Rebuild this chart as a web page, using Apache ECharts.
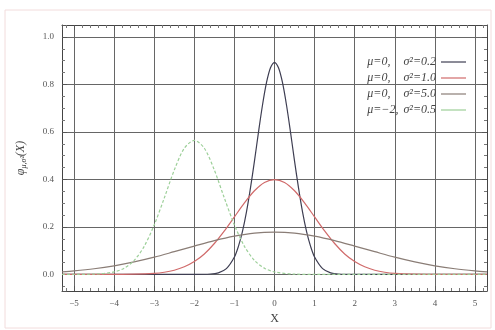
<!DOCTYPE html>
<html>
<head>
<meta charset="utf-8">
<script src="https://cdn.jsdelivr.net/npm/echarts@6/dist/echarts.min.js"></script>
<style>
  html, body { margin: 0; padding: 0; background: #fff; }
  #chart { width: 495px; height: 330px; }
</style>
</head>
<body>
<div id="chart"></div>
<script>
// curve samples
var xA = [-5.3, -2, -1.6, -1.4, -1.2, -1.0, -0.9, -0.8, -0.7, -0.6, -0.5, -0.4, -0.3, -0.2, -0.1, 0,
          0.1, 0.2, 0.3, 0.4, 0.5, 0.6, 0.7, 0.8, 0.9, 1.0, 1.2, 1.4, 1.6, 2, 5.3];
var yA = [0, 0, 0.0015, 0.0066, 0.024, 0.073, 0.118, 0.180, 0.262, 0.363, 0.477, 0.598, 0.712, 0.807, 0.870, 0.892,
          0.870, 0.807, 0.712, 0.598, 0.477, 0.363, 0.262, 0.180, 0.118, 0.073, 0.024, 0.0066, 0.0015, 0, 0];

var xB = [-5.3, -4.5, -4, -3.5, -3, -2.75, -2.5, -2.25, -2, -1.75, -1.5, -1.25, -1, -0.75, -0.5, -0.25, 0,
          0.25, 0.5, 0.75, 1, 1.25, 1.5, 1.75, 2, 2.25, 2.5, 2.75, 3, 3.5, 4, 4.5, 5.3];
var yB = [0, 0, 0.0001, 0.0009, 0.0044, 0.009, 0.0175, 0.032, 0.054, 0.086, 0.130, 0.183, 0.242, 0.301, 0.352, 0.387, 0.399,
          0.387, 0.352, 0.301, 0.242, 0.183, 0.130, 0.086, 0.054, 0.032, 0.0175, 0.009, 0.0044, 0.0009, 0.0001, 0, 0];

var xC = [-5.3, -5, -4.5, -4, -3.5, -3, -2.5, -2, -1.5, -1, -0.5, 0, 0.5, 1, 1.5, 2, 2.5, 3, 3.5, 4, 4.5, 5, 5.3];
var yC = [0.0107, 0.0146, 0.0236, 0.036, 0.0523, 0.0723, 0.0955, 0.119, 0.142, 0.161, 0.174, 0.178,
          0.174, 0.161, 0.142, 0.119, 0.0955, 0.0723, 0.0523, 0.036, 0.0236, 0.0146, 0.0107];

var xD = [-5.3, -5, -4.5, -4, -3.75, -3.5, -3.25, -3, -2.75, -2.5, -2.25, -2,
          -1.75, -1.5, -1.25, -1, -0.75, -0.5, -0.25, 0, 0.5, 1, 5.3];
var yD = [0, 0.0001, 0.001, 0.0103, 0.026, 0.059, 0.118, 0.208, 0.321, 0.439, 0.531, 0.564,
          0.531, 0.439, 0.321, 0.208, 0.118, 0.059, 0.026, 0.0103, 0.001, 0.0001, 0];

var seriesNames = ['μ=0, σ²=0.2', 'μ=0, σ²=1.0', 'μ=0, σ²=5.0', 'μ=−2, σ²=0.5'];
var seriesColors = ['#3e3e52', '#d06a6a', '#8a7d76', '#9ccf98'];

function zip(xs, ys) {
    var out = [];
    for (var i = 0; i < xs.length; i++) out.push([xs[i], ys[i]]);
    return out;
}

var myChart = echarts.init(document.getElementById('chart'));
var serif = '"Liberation Serif", "DejaVu Serif", serif';

function fmtNum(v, d) {
    return v.toFixed(d).replace('-', '−');
}

var tickStyle = {show: true, inside: true, length: 5, lineStyle: {color: '#555'}};
var minorStyle = {show: true, splitNumber: 5, length: 3, lineStyle: {color: '#777'}};
var gridLine = {show: true, lineStyle: {color: '#666', width: 1, type: 'solid'}};

var allData = [zip(xA, yA), zip(xB, yB), zip(xC, yC), zip(xD, yD)];
var temp_series = [];
for (var i = 0; i < allData.length; i++) {
    temp_series.push({
        name: seriesNames[i],
        type: 'line',
        symbol: 'none',
        smooth: 0.3,
        xAxisIndex: 0,
        yAxisIndex: 0,
        lineStyle: {color: seriesColors[i], width: 1.2, type: i === 3 ? [3, 2] : 'solid'},
        itemStyle: {color: seriesColors[i]},
        data: allData[i]
    });
}

function legendFont(padLeft) {
    return {fontFamily: serif, fontStyle: 'italic', fontSize: 12, color: '#444', lineHeight: 13,
            padding: [0, 0, 0, padLeft]};
}

var option = {
    backgroundColor: '#fff',
    animation: false,
    graphic: [{
        type: 'rect',
        shape: {x: 5, y: 10, width: 486, height: 318},
        style: {fill: 'none', stroke: '#f2dcdc', lineWidth: 1}
    }],
    grid: {left: 62, right: 8, top: 25, bottom: 37},
    legend: {
        orient: 'vertical',
        right: 24,
        top: 51,
        align: 'right',
        icon: 'rect',
        itemWidth: 25,
        itemHeight: 1.2,
        itemGap: 4,
        formatter: function (name) {
            var parts = name.split(', ');
            var gap = parts[0].length > 3 ? 'g2' : 'g0';
            return '{m|' + parts[0] + ',}{' + gap + '|' + parts[1] + '}';
        },
        textStyle: {
            rich: {
                m: legendFont(0),
                g0: legendFont(13),
                g2: legendFont(5)
            }
        },
        data: seriesNames
    },
    xAxis: [{
        type: 'value',
        min: -5.3,
        max: 5.3,
        minInterval: 1,
        maxInterval: 1,
        name: 'X',
        nameLocation: 'middle',
        nameGap: 22,
        nameTextStyle: {fontFamily: serif, fontSize: 12, color: '#444'},
        axisLine: {show: true, onZero: false, lineStyle: {color: '#444'}},
        axisTick: tickStyle,
        minorTick: minorStyle,
        axisLabel: {
            showMinLabel: false, showMaxLabel: false,
            fontFamily: serif, fontSize: 9, color: '#555', margin: 8,
            formatter: function (v) { return fmtNum(v, 0); }
        },
        splitLine: gridLine,
        minorSplitLine: {show: false}
    }, {
        type: 'value',
        position: 'top',
        min: -5.3,
        max: 5.3,
        minInterval: 1,
        maxInterval: 1,
        axisLine: {show: true, onZero: false, lineStyle: {color: '#444'}},
        axisTick: tickStyle,
        minorTick: minorStyle,
        axisLabel: {show: false},
        splitLine: {show: false}
    }],
    yAxis: [{
        type: 'value',
        min: -0.07,
        max: 1.05,
        minInterval: 0.2,
        maxInterval: 0.2,
        name: '{a|φ}{b|μ,σ²}{a|(X)}',
        nameLocation: 'middle',
        nameGap: 34,
        nameRotate: 90,
        nameTextStyle: {
            rich: {
                a: {fontFamily: serif, fontStyle: 'italic', fontSize: 12, color: '#444'},
                b: {fontFamily: serif, fontStyle: 'italic', fontSize: 8, color: '#444', verticalAlign: 'bottom', padding: [6, 0, 0, 0]}
            }
        },
        axisLine: {show: true, onZero: false, lineStyle: {color: '#444'}},
        axisTick: tickStyle,
        minorTick: {show: true, splitNumber: 4, length: 3, lineStyle: {color: '#777'}},
        axisLabel: {
            showMinLabel: false, showMaxLabel: false,
            fontFamily: serif, fontSize: 9, color: '#555', margin: 8,
            formatter: function (v) { return fmtNum(v, 1); }
        },
        splitLine: gridLine,
        minorSplitLine: {show: false}
    }, {
        type: 'value',
        position: 'right',
        min: -0.07,
        max: 1.05,
        minInterval: 0.2,
        maxInterval: 0.2,
        axisLine: {show: true, onZero: false, lineStyle: {color: '#444'}},
        axisTick: tickStyle,
        minorTick: {show: true, splitNumber: 4, length: 3, lineStyle: {color: '#777'}},
        axisLabel: {show: false},
        splitLine: {show: false}
    }],
    series: temp_series
};

myChart.setOption(option);
</script>
</body>
</html>
